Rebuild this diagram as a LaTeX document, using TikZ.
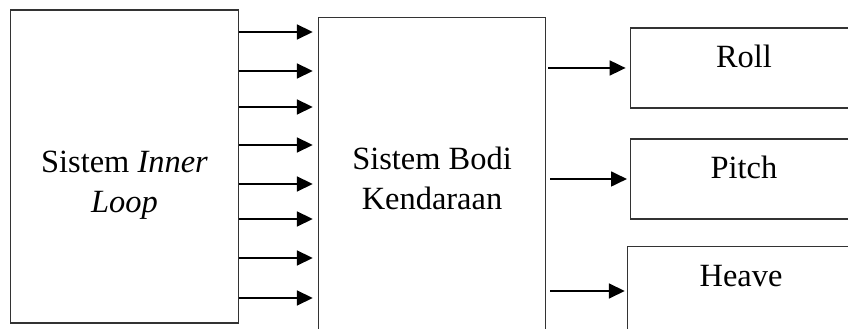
\documentclass[tikz,border=0pt]{standalone}
\usepackage{fontspec}
\setmainfont{Liberation Serif}
\usetikzlibrary{arrows.meta}

\begin{document}
\begin{tikzpicture}[x=0.37pt,y=-0.37pt,
  every path/.style={>={Triangle[length=5.9pt,width=5.5pt]}},
  every node/.style={draw=black!80,line width=0.4pt,rectangle,inner sep=0pt,
    font=\fontsize{12}{14.8}\selectfont,align=center},
  blok/.style={minimum width=84.2pt,minimum height=#1},
  sinyal/.style={->,line width=0.75pt}]
\useasboundingbox (0,0) rectangle (848,329);
\clip (0,0) rectangle (848,329);
\node[blok=115.8pt,text height=74.75pt,text depth=41.05pt] (inner) at (124.5,166.5) {Sistem \textit{Inner}\\\textit{Loop}};
\node[blok=119.1pt]                                       (body)  at (432,178)     {Sistem Bodi\\Kendaraan};
\node[blok=29.6pt,text height=14.8pt,text depth=14.8pt]    (roll)  at (744,68)      {Roll};
\node[blok=29.6pt,text height=14.8pt,text depth=14.8pt]    (pitch) at (744,179)     {Pitch};
\node[blok=32.6pt,text height=14.8pt,text depth=17.8pt]    (heave) at (741,291)     {Heave};
\foreach \y in {32,71,107,145,184,219,258,298}
  \draw[sinyal,shorten >=1.8pt] (inner.east |- 0,\y) -- (body.west |- 0,\y);
\draw[sinyal,shorten <=0.7pt,shorten >=1.5pt] (body.east |- roll.west)  -- (roll.west);
\draw[sinyal,shorten <=1.5pt,shorten >=1pt]   (body.east |- pitch.west) -- (pitch.west);
\draw[sinyal,shorten <=1.5pt,shorten >=0.7pt] (body.east |- heave.west) -- (heave.west);
\end{tikzpicture}
\end{document}
